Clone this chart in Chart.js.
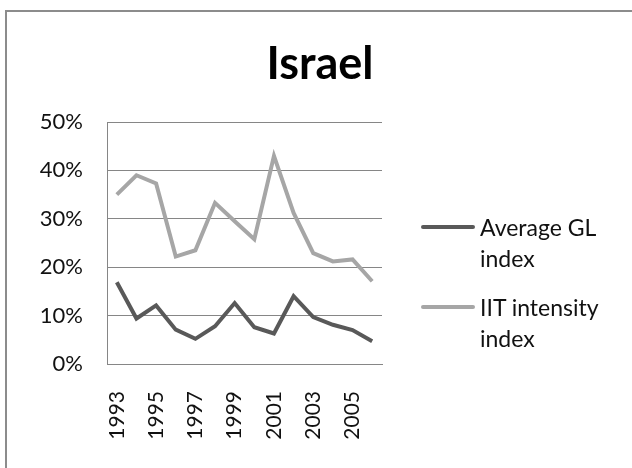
<!DOCTYPE html>
<html>
<head>
<meta charset="utf-8">
<script src="https://cdn.jsdelivr.net/npm/chart.js@4"></script>
<style>
  body { margin: 0; background: #fff; }
  #wrap { position: relative; width: 632px; height: 468px; overflow: hidden; }
  #frame { position: absolute; left: 5px; top: 10px; width: 700px; height: 600px; border: 2px solid #8c8c8c; }
  #title { position: absolute; left: 0; top: 36px; width: 640px; text-align: center;
           font: bold 45px Lato, sans-serif; color: #000; line-height: 52px; }
  #legend { position: absolute; left: 421px; top: 212px; font: 23px Lato, sans-serif; color: #111; }
  .item { position: relative; height: 80px; }
  .swatch { position: absolute; left: 0; top: 13px; width: 54px; height: 4px; border-radius: 2px; }
  .text { position: absolute; left: 59px; top: 0; line-height: 31px; white-space: nowrap; }
  canvas { position: absolute; left: 0; top: 0; }
</style>
</head>
<body>
<div id="wrap">
  <div id="frame"></div>
  <canvas id="myChart" width="632" height="468"></canvas>
  <div id="title">Israel</div>
  <div id="legend"></div>
</div>
<script>
let years = ['1993', '1994', '1995', '1996', '1997', '1998', '1999',
             '2000', '2001', '2002', '2003', '2004', '2005', '2006'];
let glIndex = [16.9, 9.4, 12.1, 7.1, 5.2, 7.8, 12.6, 7.6, 6.3, 14.0, 9.7, 8.1, 7.0, 4.7];
let iitIndex = [35.0, 39.0, 37.3, 22.2, 23.5, 33.3, 29.5, 25.8, 43.0, 31.2, 22.9, 21.2, 21.6, 17.1];
let seriesNames = [['Average GL', 'index'], ['IIT intensity', 'index']];
let colors = ['#595959', '#a6a6a6'];

// legend drawn as html so the labels can wrap like the original
let legend = document.getElementById('legend');
seriesNames.forEach((lines, i) => {
  let item = document.createElement('div');
  item.className = 'item';
  item.innerHTML = '<div class="swatch" style="background:' + colors[i] + '"></div>' +
                   '<div class="text">' + lines.join('<br>') + '</div>';
  legend.appendChild(item);
});

let ctx = document.getElementById('myChart');
new Chart(ctx, {
  type: 'line',
  data: {
    labels: years,
    datasets: [
      { label: seriesNames[0].join(' '), data: glIndex, borderColor: colors[0] },
      { label: seriesNames[1].join(' '), data: iitIndex, borderColor: colors[1] }
    ]
  },
  options: {
    responsive: false,
    animation: false,
    layout: { padding: { top: 122, right: 250, bottom: 0, left: 0 } },
    elements: {
      line: { borderWidth: 4, tension: 0 },
      point: { radius: 0 }
    },
    plugins: {
      legend: { display: false },
      tooltip: { enabled: false }
    },
    scales: {
      x: {
        offset: true,
        afterFit: s => { s.height = 104; },
        grid: { display: false, drawTicks: false },
        border: { color: '#868686', width: 1 },
        ticks: {
          autoSkip: false,
          minRotation: 90,
          maxRotation: 90,
          padding: 27,
          color: '#111',
          font: { family: 'Lato', size: 21 },
          callback: function (v, i) { return i % 2 === 0 ? this.getLabelForValue(v) : ''; }
        }
      },
      y: {
        min: 0,
        max: 50,
        afterFit: s => { s.width = 107; },
        grid: { color: '#868686', drawTicks: false },
        border: { color: '#868686', width: 1 },
        ticks: {
          stepSize: 10,
          padding: 24,
          color: '#111',
          font: { family: 'Lato', size: 22 },
          callback: v => v + '%'
        }
      }
    }
  }
});
</script>
</body>
</html>
